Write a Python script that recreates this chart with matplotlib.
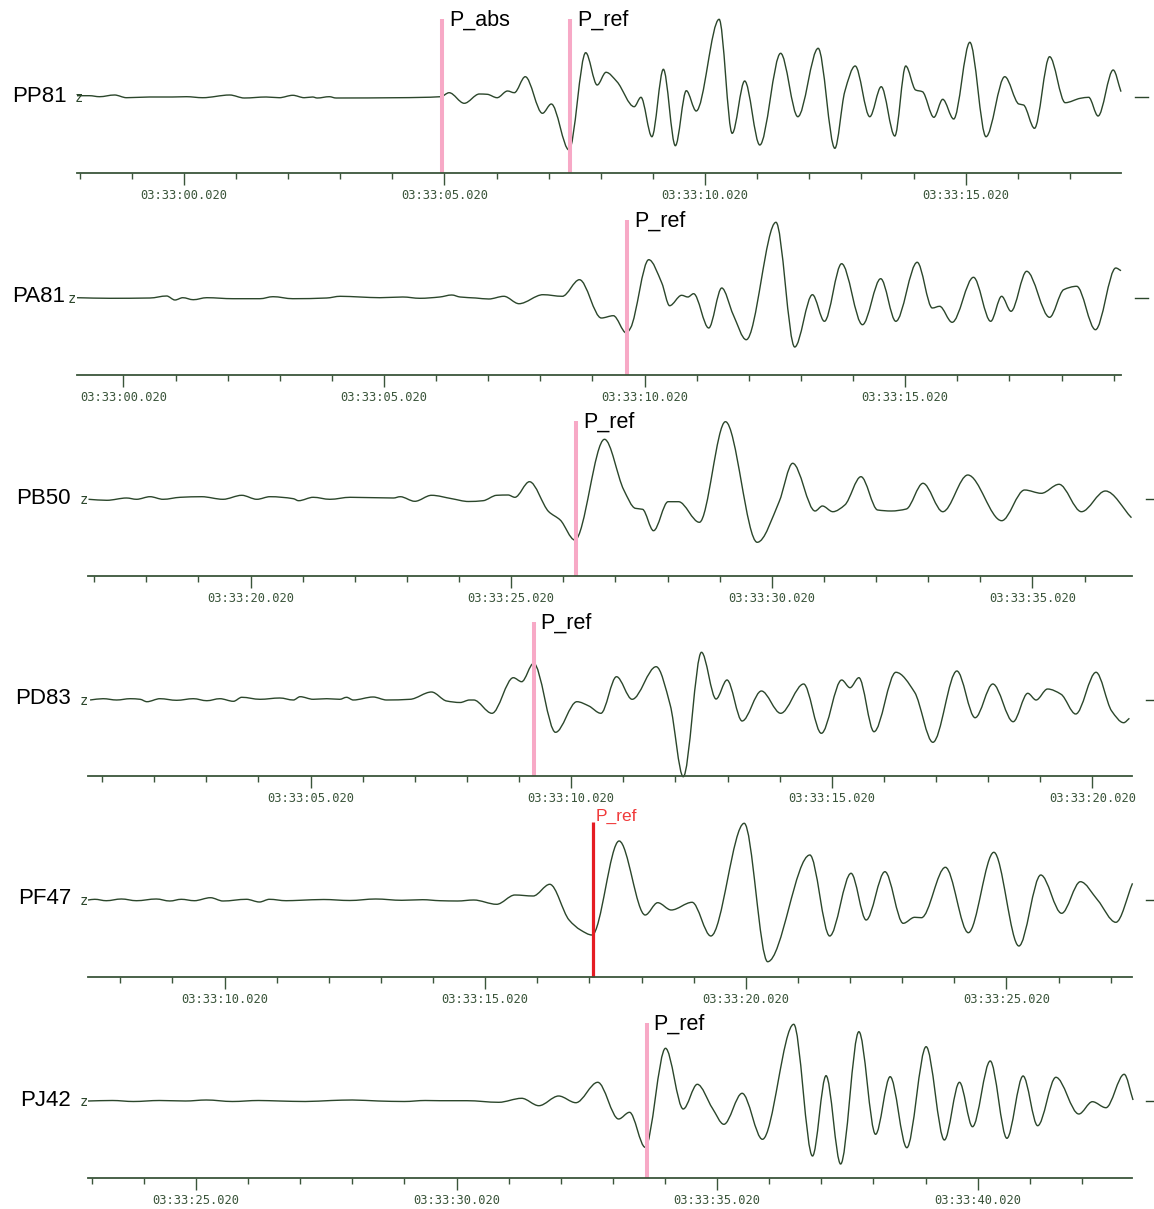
import numpy as np
import matplotlib
matplotlib.use("Agg")
import matplotlib.pyplot as plt
from matplotlib.path import Path
from matplotlib.patches import PathPatch
from matplotlib.ticker import MultipleLocator, FuncFormatter

# vertical-component traces, time in s after 03:33:00.020, amplitude in counts (scaled)
STATIONS = ["PP81", "PA81", "PB50", "PD83", "PF47", "PJ42"]

PP81_T = [-2.05, -1.81, -1.62, -1.33, -1.10, -0.66, -0.22, 0.05, 0.36, 0.88, 1.16, 1.58, 1.83,
          2.09, 2.31, 2.47, 2.56, 2.79, 2.92, 4.13, 4.93, 5.09, 5.38, 5.67, 5.82, 6.01, 6.21,
          6.34, 6.55, 6.88, 7.05, 7.39, 7.71, 7.93, 8.10, 8.31, 8.64, 8.77, 8.98, 9.20, 9.43,
          9.64, 9.83, 10.27, 10.52, 10.76, 11.05, 11.45, 11.78, 12.17, 12.49, 12.68, 12.88,
          13.16, 13.38, 13.64, 13.85, 14.04, 14.17, 14.39, 14.56, 14.77, 15.08, 15.39, 15.75,
          16.02, 16.11, 16.32, 16.61, 16.91, 17.20, 17.36, 17.54, 17.83, 17.98]
PP81_A = [1.3, 1.3, 0.3, 2.0, -0.7, 0.0, 0.0, 0.3, -0.7, 2.0, -1.0, 0.0, -0.7,
          1.7, -0.7, 0.0, -1.0, 0.3, -1.0, -0.7, 0.3, 4.3, -6.3, 3.0, 2.7, -0.7, 6.0,
          4.3, 20.3, -16.3, -7.0, -53.0, 44.3, 12.0, 24.7, 15.3, -9.7, -0.3, -39.7, 27.7, -48.7,
          6.3, -14.0, 77.7, -36.3, 16.0, -48.0, 43.7, -19.7, 48.7, -51.3, 5.3, 31.0,
          -19.7, 10.3, -39.0, 31.0, 7.0, 5.3, -20.3, -2.3, -22.0, 54.7, -39.7, 20.3,
          -7.0, -8.0, -31.3, 40.3, -5.7, -1.3, -0.3, -19.0, 27.0, 5.3]

PA81_T = [-0.89, -0.26, 0.51, 0.83, 0.99, 1.14, 1.34, 1.60, 2.10, 2.62, 2.87, 3.25, 3.90,
          4.16, 4.54, 4.92, 5.36, 5.69, 6.07, 6.30, 6.46, 6.76, 7.01, 7.30, 7.59, 8.05, 8.42,
          8.75, 9.17, 9.40, 9.65, 9.73, 10.08, 10.33, 10.48, 10.71, 10.83, 10.94, 11.23, 11.48,
          11.70, 11.95, 12.52, 12.88, 13.22, 13.45, 13.78, 14.18, 14.53, 14.82, 15.23, 15.52,
          15.66, 15.90, 16.31, 16.64, 16.85, 17.03, 17.33, 17.77, 18.04, 18.29, 18.65, 19.04,
          19.14]
PA81_A = [0.3, -0.3, 0.0, 2.0, -2.0, 0.3, -1.7, 0.3, -0.7, -0.7, 1.3, -0.7, 0.0,
          1.7, 1.0, 0.3, 1.0, -0.3, 1.0, 3.0, 1.0, 0.0, -1.0, 1.7, -5.7, 3.3, 1.7,
          18.3, -20.0, -17.7, -35.0, -30.0, 38.3, 15.0, -7.7, 2.7, 1.0, 4.3, -30.0, 10.0,
          -16.7, -41.7, 75.7, -49.0, 3.3, -23.3, 34.3, -26.7, 19.3, -23.3, 35.7, -10.0,
          -8.3, -24.3, 20.7, -23.3, 1.7, -13.3, 26.7, -19.3, 8.3, 11.7, -31.7, 30.0,
          27.3]

PB50_T = [16.89, 17.24, 17.62, 17.81, 18.07, 18.32, 18.65, 19.06, 19.47, 19.83, 20.12, 20.37,
          20.82, 20.92, 21.20, 21.52, 21.91, 22.74, 22.87, 23.15, 23.47, 23.86, 24.18, 24.46,
          24.72, 24.94, 25.07, 25.35, 25.72, 25.94, 26.22, 26.79, 27.16, 27.38, 27.52, 27.73,
          28.01, 28.21, 28.61, 29.11, 29.72, 30.14, 30.40, 30.83, 30.97, 31.17, 31.40, 31.71,
          32.03, 32.29, 32.58, 32.90, 33.28, 33.76, 34.41, 34.85, 35.17, 35.51, 35.94, 36.40,
          36.90]
PB50_A = [-0.3, -1.3, 1.0, -0.3, 2.3, -0.3, 1.7, 2.3, -0.3, 3.7, -0.3, 2.3,
          0.3, -1.7, 1.7, -0.3, 1.7, 1.0, 2.3, -2.3, 3.7, 0.3, -2.5, -1.7,
          3.7, 4.0, 1.7, 17.3, -12.7, -21.0, -41.0, 59.7, 9.0, -9.3, -10.3, -31.7,
          -2.7, -2.7, -23.3, 77.3, -43.3, -2.7, 35.7, -12.0, -7.0, -12.7, -6.0, 22.3,
          -11.0, -12.0, -10.0, 15.7, -12.7, 24.0, -21.7, 9.0, 5.7, 14.7, -12.7, 8.0,
          -18.7]

PD83_T = [0.77, 1.02, 1.28, 1.54, 1.73, 1.86, 2.11, 2.43, 2.75, 3.01, 3.26, 3.52, 3.68, 4.03,
          4.41, 4.67, 4.80, 5.05, 5.31, 5.56, 5.69, 5.82, 6.20, 6.46, 6.91, 7.32, 7.61, 7.87,
          8.05, 8.13, 8.48, 8.89, 9.05, 9.28, 9.70, 10.11, 10.34, 10.57, 10.87, 11.17, 11.63,
          11.90, 12.15, 12.50, 12.78, 12.99, 13.28, 13.65, 14.02, 14.46, 14.80, 15.19, 15.35,
          15.52, 15.81, 16.23, 16.59, 16.94, 17.40, 17.75, 18.09, 18.48, 18.76, 18.92, 19.14,
          19.40, 19.68, 20.07, 20.37, 20.60, 20.71]
PD83_A = [0.0, 1.3, 0.0, 1.3, 0.7, -1.7, 1.3, -0.3, 1.3, -0.7, 1.3, -1.3, 2.7, 0.7,
          2.0, 0.0, 3.3, 0.7, 1.3, 0.7, 2.7, 0.0, 3.0, 0.0, 0.7, 8.0, -1.0, -2.5,
          0.0, 0.0, -13.3, 22.3, 18.3, 36.7, -32.3, -1.7, -6.0, -13.3, 23.3, 0.7, 33.3,
          -5.0, -76.7, 47.7, 1.0, 20.0, -21.0, 9.0, -13.3, 16.0, -33.3, 20.0, 12.3,
          22.3, -31.7, 27.7, 7.7, -42.3, 29.0, -17.7, 16.0, -21.7, 6.7, 0.0, 11.0,
          5.7, -14.0, 27.7, -11.0, -22.7, -18.3]

PF47_T = [7.38, 7.51, 7.73, 8.02, 8.31, 8.69, 8.95, 9.17, 9.42, 9.73, 9.97, 10.42, 10.67, 10.86,
          11.18, 11.44, 11.9, 12.4, 12.9, 13.4, 13.8, 14.13, 14.47, 14.78, 15.22, 15.57, 15.92,
          16.24, 16.61, 16.83, 17.05, 17.57, 18.07, 18.31, 18.57, 18.97, 19.33, 19.97, 20.42,
          21.23, 21.61, 22.02, 22.31, 22.67, 23.02, 23.24, 23.37, 23.83, 24.27, 24.76, 25.24,
          25.66, 26.06, 26.42, 26.75, 27.10, 27.42]
PF47_A = [0.0, 0.7, -0.7, 1.0, -0.7, 1.0, -1.0, 0.7, -0.7, 2.3, -1.0, 0.7, -2.0, 0.7,
          -0.7, -0.3, 0.5, -0.5, 1.0, -0.3, 0.3, -0.7, -1.0, 0.0, -4.3, 5.0, 4.0,
          15.7, -20.0, -30.0, -35.0, 59.0, -15.0, -2.7, -10.0, -2.3, -36.0, 76.7, -61.7,
          45.0, -36.0, 26.7, -20.0, 28.3, -23.3, -17.3, -17.7, 32.7, -32.7, 47.7, -46.0,
          25.0, -13.3, 18.3, 0.0, -22.3, 16.7]

PJ42_T = [22.93, 23.4, 23.8, 24.3, 24.8, 25.2, 25.7, 26.2, 26.6, 27.1, 27.6, 28.0, 28.5, 29.0,
          29.4, 29.68, 30.20, 30.81, 31.25, 31.58, 31.96, 32.29, 32.71, 33.11, 33.32, 33.62,
          34.01, 34.35, 34.62, 34.91, 35.13, 35.48, 35.87, 36.47, 36.83, 37.09, 37.37, 37.72,
          38.04, 38.32, 38.64, 39.01, 39.36, 39.65, 39.90, 40.24, 40.56, 40.87, 41.15, 41.50,
          41.94, 42.20, 42.46, 42.81, 42.98]
PJ42_A = [0.0, 0.5, -0.5, 0.5, 0.0, 1.0, -0.5, 0.5, 0.0, -0.5, 0.5, 1.0, 0.0, -0.5,
          0.5, 0.3, 0.3, -1.3, 2.7, -4.7, 5.0, -1.7, 18.7, -18.0, -11.3, -46.3,
          52.7, -8.0, 16.7, -7.3, -23.3, 7.7, -38.3, 76.7, -55.0, 25.3, -63.0, 69.3,
          -33.3, 24.3, -46.7, 54.3, -39.0, 18.7, -25.7, 40.0, -37.3, 25.0, -24.7, 23.7,
          -13.0, -0.7, -6.7, 26.7, 1.0]

TRACES = [(PP81_T, PP81_A), (PA81_T, PA81_A), (PB50_T, PB50_A),
          (PD83_T, PD83_A), (PF47_T, PF47_A), (PJ42_T, PJ42_A)]
P_REF = [7.41, 9.67, 26.25, 9.28, 17.07, 33.65]
P_ABS = 4.95          # only picked on PP81
HIGHLIGHT = 4         # selected pick (PF47)

# screen layout of the stacked panels (pixels)
W, H = 1154, 1209
LEFT = [77, 77, 88, 88, 88, 88]
CENTER = [97, 298, 499, 700, 900, 1101]
AXIS_Y = [173, 375, 576, 776, 977, 1178]
T0 = [-2.05, -0.89, 16.88, 0.73, 7.38, 22.93]
LABEL_X = [67, 65, 71, 71, 71, 71]
Z_X = [75, 68, 80, 80, 80, 80]
SPAN = 20.03
WIDTH_PX = 1044
PICK_TOP = 78

TRACE_C = "#2b462b"
AXIS_C = "#3a553a"
PINK = "#f7a9c6"


def trace_path(t, a):
    # piecewise-cubic (shape preserving) bezier through the samples
    t = np.asarray(t, float)
    a = np.asarray(a, float)
    h = np.diff(t)
    s = np.diff(a) / h
    d = np.zeros_like(a)
    for i in range(1, len(a) - 1):
        if s[i - 1] * s[i] > 0:
            w1 = 2 * h[i] + h[i - 1]
            w2 = h[i] + 2 * h[i - 1]
            d[i] = (w1 + w2) / (w1 / s[i - 1] + w2 / s[i])
    d[0], d[-1] = s[0], s[-1]
    verts = [(t[0], a[0])]
    codes = [Path.MOVETO]
    for i in range(len(h)):
        verts += [(t[i] + h[i] / 3, a[i] + d[i] * h[i] / 3),
                  (t[i + 1] - h[i] / 3, a[i + 1] - d[i + 1] * h[i] / 3),
                  (t[i + 1], a[i + 1])]
        codes += [Path.CURVE4] * 3
    return Path(verts, codes)


fig = plt.figure(figsize=(W / 100, H / 100), dpi=100)
fig.patch.set_facecolor("white")

for k, name in enumerate(STATIONS):
    top = CENTER[k] - 92
    ax = fig.add_axes([LEFT[k] / W, 1 - AXIS_Y[k] / H, WIDTH_PX / W, (AXIS_Y[k] - top) / H])
    ax.set_xlim(T0[k], T0[k] + SPAN)
    ax.set_ylim(-(AXIS_Y[k] - CENTER[k]), 92)
    ax.set_facecolor("none")
    for side in ("top", "left", "right"):
        ax.spines[side].set_visible(False)
    ax.spines["bottom"].set_color(AXIS_C)
    ax.spines["bottom"].set_linewidth(1.3)
    ax.set_yticks([])
    ax.xaxis.set_major_locator(MultipleLocator(5))
    ax.xaxis.set_minor_locator(MultipleLocator(1))
    ax.xaxis.set_major_formatter(FuncFormatter(lambda v, p: f"03:33:{int(round(v)):02d}.020"))
    ax.tick_params(axis="x", which="major", direction="out", length=8.6, width=1.0,
                   color=AXIS_C, labelcolor=AXIS_C, labelsize=8.7, pad=3.2)
    ax.tick_params(axis="x", which="minor", direction="out", length=4.3, width=1.0, color=AXIS_C)
    for lab in ax.get_xticklabels():
        lab.set_family("DejaVu Sans Mono")

    t, a = TRACES[k]
    ax.add_patch(PathPatch(trace_path(t, a), fill=False, ec=TRACE_C, lw=1.0, clip_on=False))
    # zero-level marker at the right end
    ax.plot([T0[k] + SPAN + 0.27, T0[k] + SPAN + 0.52], [0, 0], color=TRACE_C, lw=1.0, clip_on=False)

    bottom = -(AXIS_Y[k] - CENTER[k])
    picks = [("P_ref", P_REF[k])]
    if k == 0:
        picks.insert(0, ("P_abs", P_ABS))
    for lbl, tp in picks:
        if k == HIGHLIGHT:
            ax.plot([tp, tp], [bottom, PICK_TOP], color="#e51c23", lw=2.3, clip_on=False,
                    solid_capstyle="butt")
            ax.annotate(lbl, (tp, PICK_TOP), xytext=(2, 4), textcoords="offset points",
                        color="#f03a3a", fontsize=12.5, family="Liberation Sans",
                        ha="left", va="center")
        else:
            ax.plot([tp, tp], [bottom, PICK_TOP], color=PINK, lw=2.9, clip_on=False,
                    solid_capstyle="butt")
            ax.annotate(lbl, (tp, PICK_TOP), xytext=(5, -1), textcoords="offset points",
                        color="black", fontsize=15.5, family="Liberation Sans",
                        ha="left", va="center")

    fig.text(LABEL_X[k] / W, 1 - (CENTER[k] - 1) / H, name, ha="right", va="center",
             fontsize=16, family="Liberation Sans", color="black")
    fig.text(Z_X[k] / W, 1 - (CENTER[k] + 1) / H, "z", ha="left", va="center",
             fontsize=10, family="DejaVu Sans Mono", color=TRACE_C)

fig.savefig("out.png", dpi=100)
